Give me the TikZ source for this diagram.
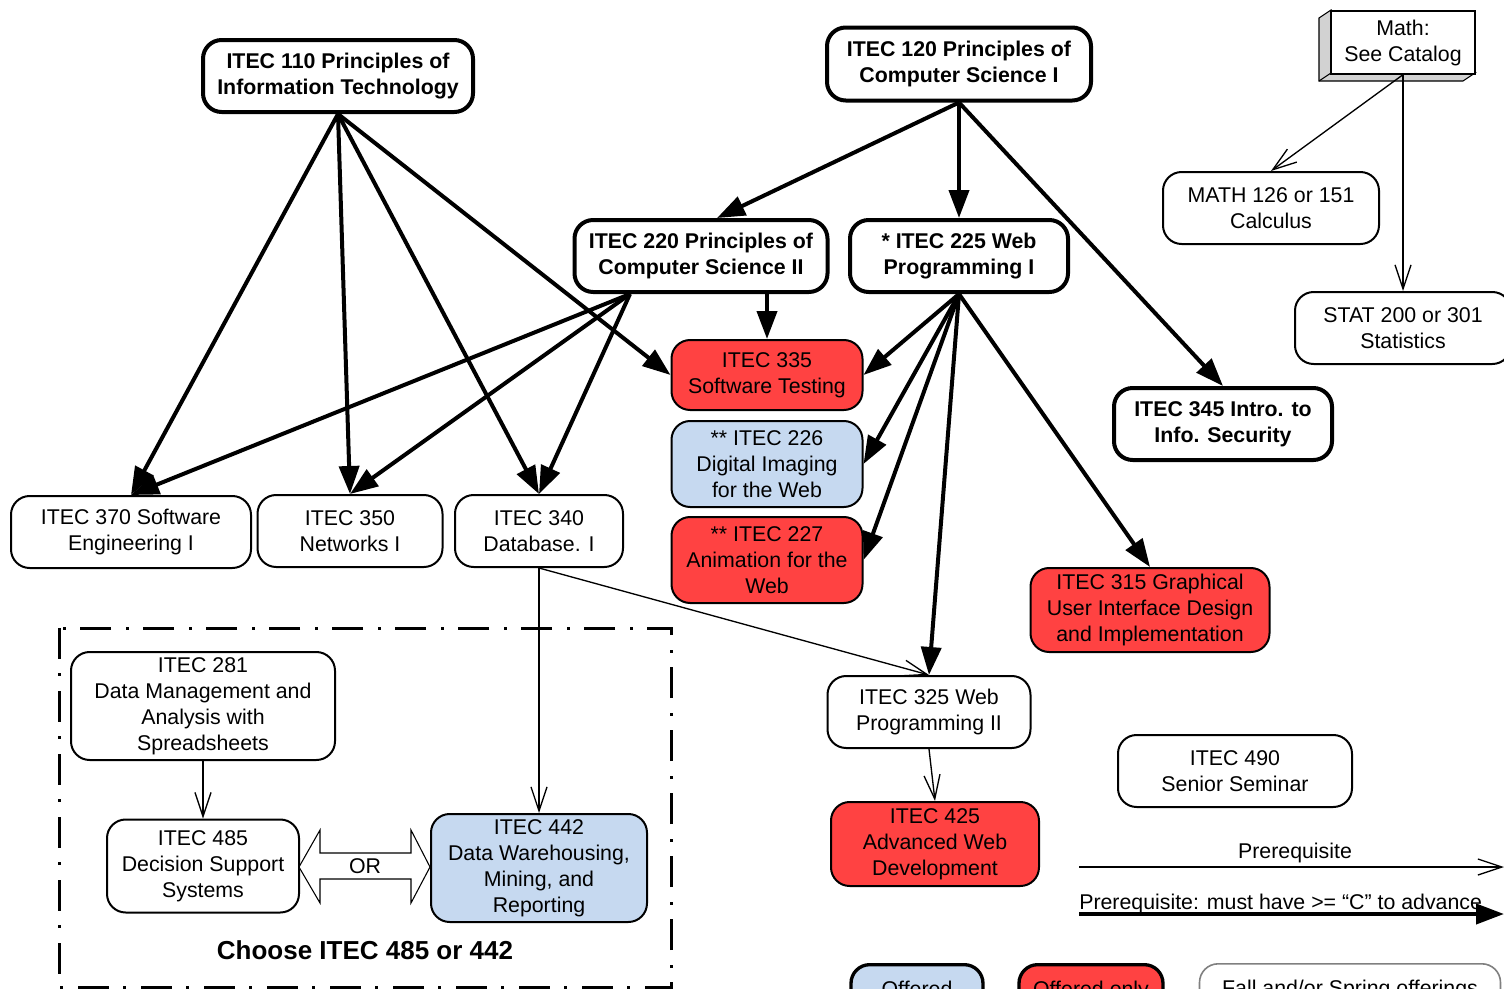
\documentclass[tikz,border=0pt]{standalone}
\usepackage{fontspec}
\setmainfont{Liberation Sans}
\usetikzlibrary{arrows.meta,calc}
\definecolor{redc}{RGB}{255,66,66}
\definecolor{bluec}{RGB}{198,217,240}
\tikzset{
  box/.style={draw, rounded corners=14pt, line width=1.5pt, align=center, fill=white,
    font=\fontsize{16pt}{19.5pt}\selectfont, inner sep=0pt},
  boldbox/.style={box, line width=3pt, font=\fontsize{16pt}{19.5pt}\selectfont\bfseries},
  sz/.style 2 args={minimum width=#1*0.75pt, minimum height=#2*0.75pt},
  redbox/.style={box, fill=redc},
  bluebox/.style={box, fill=bluec},
  legbox/.style={box, anchor=north, inner xsep=0pt, inner ysep=12pt, text height=11.6pt, text depth=3.3pt, minimum height=0pt},
  cprq/.style={line width=3pt, -{Triangle[length=21pt,width=15pt]}},
  prq/.style={line width=1pt, -{Straight Barb[length=18pt,width=12pt]}},
  txt/.style={font=\fontsize{16pt}{19.5pt}\selectfont, inner sep=0pt},
}
\begin{document}
\begin{tikzpicture}[x=0.75pt,y=-0.75pt]
\useasboundingbox (0,0) rectangle (1504,989);
\clip (0,0) rectangle (1504,989);

% Math 3D box
\filldraw[fill=gray!35, draw=black, line width=0.8pt] (1331,10) -- (1319,18) -- (1319,81) -- (1463,81) -- (1475,73) -- (1331,73) -- cycle;
\draw[line width=0.8pt] (1319,81) -- (1331,73);
\node[draw, fill=white, line width=1pt, sz={144}{63}, align=center, txt] (math) at (1403,42.5) {Math:\\See Catalog};

% nodes
\node[boldbox, sz={270}{72}] (n110) at (338,76) {ITEC 110 Principles of\\Information Technology};
\node[boldbox, sz={264}{73}] (n120) at (959,64) {ITEC 120 Principles of\\Computer Science I};
\node[box, sz={216}{72}] (m126) at (1271,208) {MATH 126 or 151\\Calculus};
\node[box, sz={216}{72}] (stat) at (1403,328) {STAT 200 or 301\\Statistics};
\node[boldbox, sz={253}{72}] (n220) at (701,256) {ITEC 220 Principles of\\Computer Science II};
\node[boldbox, sz={218}{72}] (n225) at (959,256) {* ITEC 225 Web\\Programming I};
\node[redbox, sz={191}{70}] (n335) at (767,375) {ITEC 335\\Software Testing};
\node[bluebox, sz={191}{86}] (n226) at (767,464) {** ITEC 226\\Digital Imaging\\for the Web};
\node[redbox, sz={191}{86}] (n227) at (767,560) {** ITEC 227\\Animation for the\\Web};
\node[boldbox, sz={218}{72}] (n345) at (1223,424) {ITEC 345 Intro. to\\Info. Security};
\node[box, sz={240}{72}] (n370) at (131,532) {ITEC 370 Software\\Engineering I};
\node[box, sz={185}{72}] (n350) at (350,531) {ITEC 350\\Networks I};
\node[box, sz={168}{72}] (n340) at (539,531) {ITEC 340\\Database. I};
\node[redbox, sz={239}{84}] (n315) at (1150,610) {ITEC 315 Graphical\\User Interface Design\\and Implementation};
\node[box, sz={203}{72}] (n325) at (929,712) {ITEC 325 Web\\Programming II};
\node[redbox, sz={208}{84}] (n425) at (935,844) {ITEC 425\\Advanced Web\\Development};
\node[box, sz={234}{72}] (n490) at (1235,771) {ITEC 490\\Senior Seminar};
\node[box, sz={264}{108}] (n281) at (203,706) {ITEC 281\\Data Management and\\Analysis with\\Spreadsheets};
\node[box, sz={192}{93}] (n485) at (203,866) {ITEC 485\\Decision Support\\Systems};
\node[bluebox, sz={216}{108}] (n442) at (539,868) {ITEC 442\\Data Warehousing,\\Mining, and\\Reporting};

% choose box
\draw[line width=2.25pt, dash pattern=on 23pt off 11pt on 2.25pt off 11pt] (59,628) rectangle (671,987);
\node[font=\fontsize{19.5pt}{23pt}\selectfont\bfseries, inner sep=0pt] (choose) at (365,950) {Choose ITEC 485 or 442};

% OR block arrow
\draw[line width=0.8pt, fill=white] (299,867) -- (320,830) -- (320,853) -- (411,853) -- (411,830) -- (430,867) -- (411,903) -- (411,879) -- (320,879) -- (320,903) -- cycle;
\node[txt] (or) at (365,866) {OR};

% "C" prerequisite arrows
\draw[cprq] (n110.south) -- (n370.north);
\draw[cprq] (n110.south) -- (n350.north);
\draw[cprq] (n110.south) -- (n340.north);
\draw[cprq] (n110.south) -- (n335.west);
\draw[cprq] (n120.south) -- ($(n220.north)+(16,0)$);
\draw[cprq] (n120.south) -- (n225.north);
\draw[cprq] (n120.south) -- (n345.north);
\draw[cprq] ($(n220.south)+(66,0)$) -- (n335.north);
\draw[cprq] ($(n220.south)+(-71,0)$) -- (n370.north);
\draw[cprq] ($(n220.south)+(-71,0)$) -- (n350.north);
\draw[cprq] ($(n220.south)+(-71,0)$) -- (n340.north);
\draw[cprq] (n225.south) -- (n335.east);
\draw[cprq] (n225.south) -- (n226.east);
\draw[cprq] (n225.south) -- (n227.east);
\draw[cprq] (n225.south) -- (n325.north);
\draw[cprq] (n225.south) -- (n315.north);

% simple prerequisite arrows
\draw[prq] (math.south) -- (m126.north);
\draw[prq] (math.south) -- (stat.north);
\draw[prq] (n340.south) -- (n442.north);
\draw[prq] (n340.south) -- (n325.north);
\draw[prq] (n281.south) -- (n485.north);
\draw[prq] (n325.south) -- (n425.north);

% legend
\coordinate (la1) at (1079,867);
\coordinate (la2) at (1504,867);
\coordinate (lb1) at (1079,914);
\coordinate (lb2) at (1504,914);
\draw[prq] (la1) -- (la2);
\node[txt] (lt1) at (1295,853) {Prerequisite};
\draw[cprq] (lb1) -- (lb2);
\node[txt, anchor=base west] (lt2) at (1079,909) {Prerequisite: must have >= “C” to advance};

\node[legbox, fill=bluec, line width=2.5pt, minimum width=132*0.75pt] (lg1) at (917,963) {Offered};
\node[legbox, fill=redc, line width=2.5pt, minimum width=144*0.75pt] (lg2) at (1091,963) {Offered only};
\node[legbox, draw=gray, line width=1.2pt, minimum width=301*0.75pt] (lg3) at (1350,963) {Fall and/or Spring offerings};
\end{tikzpicture}
\end{document}
